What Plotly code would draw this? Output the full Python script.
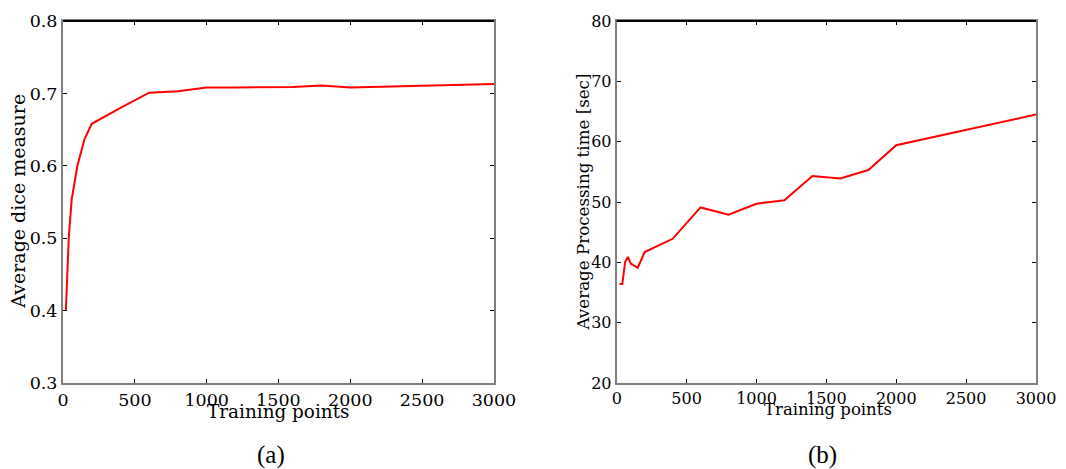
import plotly.graph_objects as go

# Data
train_points = [20, 40, 60, 80, 100, 150, 200, 400, 600, 800, 1000, 1200, 1400, 1600, 1800, 2000, 3000]
dice = [0.400, 0.500, 0.553, 0.580, 0.600, 0.637, 0.658, 0.680, 0.701, 0.703, 0.708, 0.708, 0.708, 0.709, 0.711, 0.708, 0.713]
proc_time = [36.4, 36.4, 40.1, 40.9, 39.8, 39.1, 41.7, 43.9, 49.1, 47.9, 49.7, 50.3, 54.3, 53.9, 55.3, 59.4, 64.5]

x_ticks = [0, 500, 1000, 1500, 2000, 2500, 3000]
y1_ticks = [0.3, 0.4, 0.5, 0.6, 0.7, 0.8]
y2_ticks = [20, 30, 40, 50, 60, 70, 80]

W, H = 1066, 469
L, R, T, B = 63.3, 1066 - 1035.7, 20.7, 469 - 383.3
PW, PH = W - L - R, H - T - B
LINE_GRAY = "#808080"
SERIF = "DejaVu Serif"

def px_x(p):
    return (p - L) / PW

def px_y(p):
    return (H - B - p) / PH

fig = go.Figure()
fig.add_trace(go.Scatter(x=train_points, y=dice, mode="lines",
                         line=dict(color="#ff0000", width=2), xaxis="x", yaxis="y", showlegend=False))
fig.add_trace(go.Scatter(x=train_points, y=proc_time, mode="lines",
                         line=dict(color="#ff0000", width=2), xaxis="x2", yaxis="y2", showlegend=False))

dom1 = [0, px_x(494)]
dom2 = [px_x(616.7), 1]
ydom = [0, 1]

def ax(tickvals, rng, dom, anchor, fs, fmt=None):
    d = dict(domain=dom, range=rng, tickvals=tickvals, anchor=anchor,
             showline=True, linecolor=LINE_GRAY, linewidth=2, mirror="ticks",
             ticks="inside", ticklen=4, tickwidth=1, tickcolor="#000",
             showgrid=False, zeroline=False, automargin=False,
             tickfont=dict(family=SERIF, size=fs, color="#000"))
    if fmt:
        d["tickformat"] = fmt
    return d

fig.update_layout(
    width=W, height=H, margin=dict(l=L, r=R, t=T, b=B, autoexpand=False),
    plot_bgcolor="white", paper_bgcolor="white",
    xaxis=ax(x_ticks, [0, 3000], dom1, "y", 17.5),
    yaxis=ax(y1_ticks, [0.3, 0.8], ydom, "x", 17.5, ".1f"),
    xaxis2=ax(x_ticks, [0, 3000], dom2, "y2", 16),
    yaxis2=ax(y2_ticks, [20, 80], ydom, "x2", 16),
)

# black top spines
for dom in (dom1, dom2):
    fig.add_shape(type="line", xref="paper", yref="paper", x0=dom[0], x1=dom[1],
                  y0=1, y1=1, line=dict(color="#000", width=2))

def ann(text, x, y, size, angle=0, family=SERIF):
    fig.add_annotation(text=text, xref="paper", yref="paper", x=px_x(x), y=px_y(y),
                       showarrow=False, textangle=angle, xanchor="center", yanchor="middle",
                       font=dict(family=family, size=size, color="#000"))

ann("Training points", 279, 412, 18.4)
ann("Average dice measure", 18, 201, 19, -90)
ann("Training points", 828, 410, 16.5)
ann("Average Processing time [sec]", 582.5, 202, 16.7, -90)
ann("(a)", 271, 455, 25, family="Liberation Serif")
ann("(b)", 822, 455, 25, family="Liberation Serif")

fig.write_html("out.html")
